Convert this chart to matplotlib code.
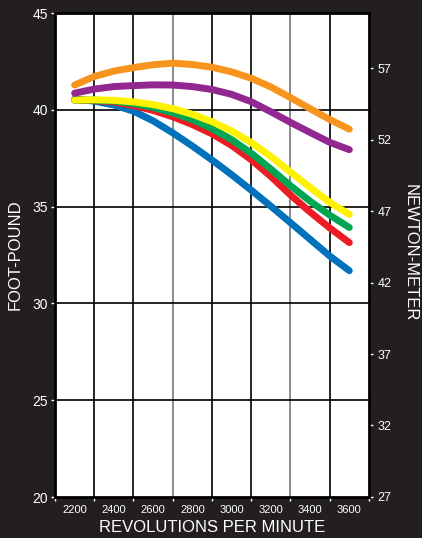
import matplotlib.pyplot as plt
import numpy as np

rpm = [2200, 2300, 2400, 2500, 2600, 2700, 2800, 2900,
       3000, 3100, 3200, 3300, 3400, 3500, 3600]
orange = [41.28, 41.72, 42.0, 42.18, 42.33, 42.41, 42.34, 42.2,
          41.96, 41.63, 41.18, 40.63, 40.06, 39.5, 39.0]
purple = [40.86, 41.07, 41.2, 41.25, 41.29, 41.28, 41.2, 41.05,
          40.8, 40.42, 39.9, 39.35, 38.83, 38.32, 37.94]
yellow = [40.5, 40.52, 40.49, 40.41, 40.27, 40.06, 39.77, 39.39,
          38.91, 38.31, 37.59, 36.79, 35.99, 35.22, 34.6]
green = [40.5, 40.5, 40.45, 40.32, 40.12, 39.85, 39.49, 39.03,
         38.46, 37.76, 36.94, 36.08, 35.28, 34.56, 33.92]
red = [40.5, 40.48, 40.4, 40.22, 39.97, 39.64, 39.24, 38.76,
       38.16, 37.42, 36.56, 35.6, 34.72, 33.9, 33.14]
blue = [40.55, 40.45, 40.25, 39.93, 39.43, 38.81, 38.13, 37.41,
        36.65, 35.85, 35.02, 34.17, 33.31, 32.45, 31.69]

tick_rpm = [2200, 2400, 2600, 2800, 3000, 3200, 3400, 3600]
nm_ticks = [27, 32, 37, 42, 47, 52, 57]

series = [(blue, '#0072BC'), (red, '#ED1C24'), (green, '#00A651'),
          (yellow, '#FFF200'), (purple, '#92278F'), (orange, '#F7941D')]

bg = '#231f20'
plt.rcParams['font.family'] = ['Liberation Sans', 'DejaVu Sans']

fig = plt.figure(figsize=(4.22, 5.38), dpi=100, facecolor=bg)
ax = fig.add_axes([0.1303, 0.0762, 0.744, 0.8996])
ax.set_facecolor('white')

for vals, col in series:
    ax.plot(rpm, vals, color=col, lw=5, solid_capstyle='round',
            solid_joinstyle='round', zorder=3)

ax.set_xlim(2100, 3700)
ax.set_ylim(20, 45)

# Gitter
for gx in np.arange(2300, 3600, 200):
    c = '#777777' if gx in (2700, 3300) else 'black'
    ax.axvline(gx, color=c, lw=1.2, zorder=1)
for gy in [25, 30, 35, 40]:
    ax.axhline(gy, color='black', lw=1.2, zorder=1)

ax.set_xticks(np.arange(2100, 3701, 200))
ax.set_xticklabels([])
ax.set_xticks(tick_rpm, minor=True)
ax.set_xticklabels([str(r) for r in tick_rpm], minor=True)
ax.tick_params(axis='x', which='major', colors='white', length=3, width=1)
ax.tick_params(axis='x', which='minor', length=0, labelsize=8, labelcolor='white', pad=6)

ax.set_yticks([20, 25, 30, 35, 40, 45])
ax.tick_params(axis='y', colors='white', length=3, width=1, labelsize=10, pad=2)

for s in ax.spines.values():
    s.set_color('black')
    s.set_linewidth(2)

# Newtonmeter = Foot-Pound * 1.3558
sec = ax.secondary_yaxis('right', functions=(lambda v: v * 1.3558 - 0.13,
                                             lambda v: (v + 0.13) / 1.3558))
sec.set_yticks(nm_ticks)
sec.tick_params(colors='white', length=3, width=1, labelsize=9, pad=3)
sec.spines['right'].set_color('black')

ax.set_xlabel('REVOLUTIONS PER MINUTE', color='white', fontsize=12, labelpad=3)
fig.text(0.036, 0.527, 'FOOT-POUND', color='white', fontsize=12,
         rotation=90, ha='center', va='center')
fig.text(0.972, 0.53, 'NEWTON-METER', color='white', fontsize=12,
         rotation=-90, ha='center', va='center')

plt.savefig('out.png', dpi=100, facecolor=bg)
